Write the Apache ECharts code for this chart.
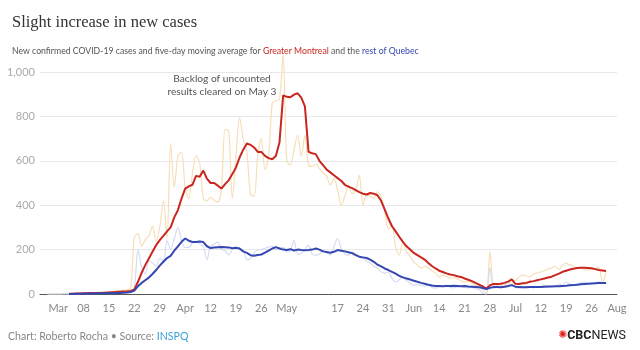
<!DOCTYPE html>
<html>
<head>
<meta charset="utf-8">
<script src="https://cdn.jsdelivr.net/npm/echarts@6/dist/echarts.min.js"></script>
<style>
  html, body { margin: 0; padding: 0; background: #fff; }
  #chart { width: 640px; height: 350px; }
</style>
</head>
<body>
<div id="chart"></div>
<script>
// days from Feb 25 2020 to Aug 2 2020 (data ends Jul 30)
var startDay = Date.UTC(2020, 1, 25);
var dayCount = 160;

// five-day moving average, Greater Montreal
var mtlAvg = [null, null, null, null, null, null, null, null,
  1, 1, 2, 2, 3, 3, 4, 4, 5, 5, 6, 7, 8, 9, 10, 11, 12, 14,
  20, 55, 95, 130, 160, 190, 220, 243, 262, 282,
  300, 345, 378, 430, 475, 485, 492, 532, 528, 556,
  520, 500, 500, 488, 475, 495, 512, 540, 570, 615,
  650, 678, 672, 660, 640, 640, 622, 612, 607, 622,
  684, 895, 888, 886, 898, 904, 885, 845, 640, 634,
  630, 600, 580, 560, 548, 535, 522, 510, 492, 484,
  477, 468, 459, 452, 448, 455, 452, 445, 420, 380,
  340, 305, 282, 258, 235, 215, 200, 185, 175, 165,
  155, 140, 126, 115, 105, 99, 93, 88, 85, 80,
  77, 70, 64, 58, 50, 42, 34, 24, 40, 45,
  45, 46, 50, 56, 66, 46, 45, 48, 50, 55,
  58, 62, 66, 70, 74, 78, 85, 92, 100, 105,
  110, 114, 117, 118, 118, 117, 116, 112, 108, 106, 104];

// five-day moving average, rest of Quebec
var qcAvg = [null, null, null, null, null, null, null, null,
  0, 0, 1, 1, 1, 2, 2, 2, 3, 3, 3, 4, 4, 5, 5, 6, 7, 9,
  15, 35, 50, 62, 74, 90, 108, 128, 145, 162,
  172, 195, 215, 235, 250, 240, 234, 234, 236, 234,
  215, 207, 209, 211, 212, 211, 210, 206, 208, 205,
  192, 185, 175, 172, 176, 178, 186, 195, 205, 211,
  205, 200, 198, 202, 196, 200, 198, 197, 198, 200,
  205, 200, 192, 189, 186, 190, 198, 195, 192, 188,
  184, 175, 168, 165, 162, 155, 145, 132, 124, 115,
  108, 100, 92, 82, 75, 70, 65, 60, 55, 50,
  46, 42, 38, 36, 36, 35, 36, 36, 37, 36,
  35, 36, 34, 33, 32, 30, 27, 22, 28, 31,
  31, 30, 33, 36, 40, 33, 31, 30, 30, 31,
  31, 32, 32, 33, 34, 34, 35, 35, 36, 37,
  39, 40, 42, 44, 45, 46, 47, 48, 49, 50, 50];

// daily new cases, Greater Montreal
var mtlDaily = [null, null,
  0, 0, 1, 0, 1, 2, 1, 3, 2, 4, 3, 5, 6, 5, 8, 9, 10, 12, 9, 14, 15, 18, 20, 25,
  255, 272, 215, 245, 260, 305, 240, 300, 420, 250,
  680, 480, 620, 640, 480, 430, 540, 625, 590, 430,
  420, 435, 420, 415, 470, 740, 735, 430, 620, 795,
  700, 640, 450, 440, 620, 700, 560, 620, 860, 870,
  880, 1080, 600, 580, 650, 715, 620, 715, 580, 575,
  585, 565, 545, 530, 490, 520, 470, 400, 440, 490,
  450, 470, 535, 400, 445, 440, 432, 460, 440, 370,
  290, 310, 210, 175, 234, 190, 170, 144, 130, 117,
  125, 117, 105, 95, 77, 85, 80, 72, 74, 68,
  60, 54, 58, 48, 40, 42, 20, 0, 190, 40,
  40, 40, 42, 45, 55, 60, 75, 86, 82, 77,
  90, 95, 99, 105, 112, 117, 125, 110, 130, 139,
  130, 125, 117, 115, 110, 108, 112, 117, 120, 54, 99];

// daily new cases, rest of Quebec
var qcDaily = [null, null,
  0, 0, 0, 1, 0, 1, 1, 2, 1, 2, 3, 2, 4, 3, 5, 4, 6, 5, 7, 6, 8, 9, 10, 12,
  30, 200, 120, 90, 150, 140, 125, 160, 150, 240,
  200, 250, 300, 240, 210, 210, 230, 235, 225, 215,
  155, 215, 225, 234, 200, 195, 175, 200, 211, 198,
  195, 155, 160, 185, 198, 200, 205, 211, 215, 200,
  207, 210, 190, 195, 243, 180, 184, 200, 220, 180,
  175, 180, 198, 185, 175, 215, 250, 205, 180, 175,
  190, 180, 165, 160, 148, 140, 125, 117, 100, 94,
  99, 70, 54, 65, 77, 60, 50, 40, 42, 38,
  35, 40, 30, 27, 32, 35, 40, 30, 28, 32,
  35, 30, 28, 30, 25, 20, 5, 0, 117, 27,
  30, 35, 30, 33, 45, 30, 28, 30, 35, 33,
  28, 30, 35, 40, 30, 35, 33, 45, 40, 54,
  45, 38, 42, 50, 54, 48, 45, 50, 55, 48, 52];

// x tick labels (every Sunday, May 10 left out)
var tickDates = ['2020-03-01', '2020-03-08', '2020-03-15', '2020-03-22', '2020-03-29',
  '2020-04-05', '2020-04-12', '2020-04-19', '2020-04-26', '2020-05-03',
  '2020-05-17', '2020-05-24', '2020-05-31', '2020-06-07', '2020-06-14',
  '2020-06-21', '2020-06-28', '2020-07-05', '2020-07-12', '2020-07-19',
  '2020-07-26', '2020-08-02'];
var tickLabels = ['Mar', '08', '15', '22', '29', 'Apr', '12', '19', '26', 'May',
  '17', '24', '31', 'Jun', '14', '21', '28', 'Jul', '12', '19', '26', 'Aug'];

var dates = [];
for (var i = 0; i < dayCount; i++) {
  dates.push(new Date(startDay + i * 86400000).toISOString().slice(0, 10));
}

var chart = echarts.init(document.getElementById('chart'), null, { renderer: 'canvas' });

var option = {
  animation: false,
  textStyle: { fontFamily: 'Lato' },
  title: [{
    text: 'Slight increase in new cases',
    left: 7, top: 9,
    textStyle: { fontFamily: 'Liberation Serif', fontWeight: 'normal', fontSize: 16.5, color: '#333' }
  }, {
    text: '{a|New confirmed COVID-19 cases and five-day moving average for }{r|Greater Montreal}{a| and the }{b|rest of Quebec}',
    left: 7, top: 42,
    textStyle: {
      fontWeight: 'normal',
      rich: {
        a: { fontFamily: 'Lato', fontWeight: 'normal', fontSize: 8.7, color: '#555' },
        r: { fontFamily: 'Lato', fontWeight: 'normal', fontSize: 8.7, color: '#c8261e' },
        b: { fontFamily: 'Lato', fontWeight: 'normal', fontSize: 8.7, color: '#3547b0' }
      }
    }
  }],
  grid: { left: 40, right: 23, top: 72, bottom: 56 },
  xAxis: {
    type: 'category',
    data: dates,
    boundaryGap: false,
    axisLine: { lineStyle: { color: '#555', width: 1 } },
    axisTick: { show: false },
    axisLabel: {
      fontFamily: 'Lato', color: '#888', fontSize: 11, margin: 9,
      interval: function (idx, val) { return tickDates.indexOf(val) >= 0; },
      formatter: function (val) { return tickLabels[tickDates.indexOf(val)]; }
    }
  },
  yAxis: {
    type: 'value', min: 0, max: 1000, interval: 200,
    axisLine: { show: false },
    axisTick: { show: false },
    axisLabel: {
      fontFamily: 'Lato', color: '#aaa', fontSize: 11, margin: 5,
      formatter: function (v) { return v === 1000 ? '1,000' : String(v); }
    },
    splitLine: { lineStyle: { color: '#e8e8e8' } }
  },
  series: [{
    name: 'Greater Montreal daily', type: 'line', data: mtlDaily,
    showSymbol: false, smooth: 0.3, clip: false,
    lineStyle: { color: '#f6dfb8', width: 1.2 }
  }, {
    name: 'Rest of Quebec daily', type: 'line', data: qcDaily,
    showSymbol: false, smooth: 0.3,
    lineStyle: { color: '#d6dcf3', width: 1.2 }
  }, {
    name: 'Greater Montreal', type: 'line', data: mtlAvg,
    showSymbol: false,
    lineStyle: { color: '#c8261e', width: 2 }
  }, {
    name: 'Rest of Quebec', type: 'line', data: qcAvg,
    showSymbol: false,
    lineStyle: { color: '#3547b0', width: 2 }
  }],
  graphic: [{
    type: 'text', x: 222, y: 72,
    style: {
      text: 'Backlog of uncounted\nresults cleared on May 3',
      align: 'center', verticalAlign: 'top',
      font: '10.2px Lato', fill: '#555', lineHeight: 13
    }
  }, {
    type: 'text', x: 8, y: 331,
    style: {
      text: '{a|Chart: Roberto Rocha • Source: }{b|INSPQ}',
      rich: {
        a: { fontFamily: 'Lato', fontSize: 10.6, fill: '#888', color: '#888' },
        b: { fontFamily: 'Lato', fontSize: 10.6, fill: '#3a9fd6', color: '#3a9fd6' }
      }
    }
  }, {
    type: 'text', x: 626, y: 329,
    style: {
      text: '{g|✺}{c|CBC}{n|NEWS}',
      align: 'right',
      rich: {
        g: { fontFamily: 'DejaVu Sans', fontSize: 11, fill: '#e2231a', color: '#e2231a' },
        c: { fontFamily: 'Roboto', fontWeight: 'bold', fontSize: 12.5, fill: '#222', color: '#222' },
        n: { fontFamily: 'Roboto', fontSize: 12.5, fill: '#222', color: '#222' }
      }
    }
  }]
};
chart.setOption(option);
</script>
</body>
</html>
